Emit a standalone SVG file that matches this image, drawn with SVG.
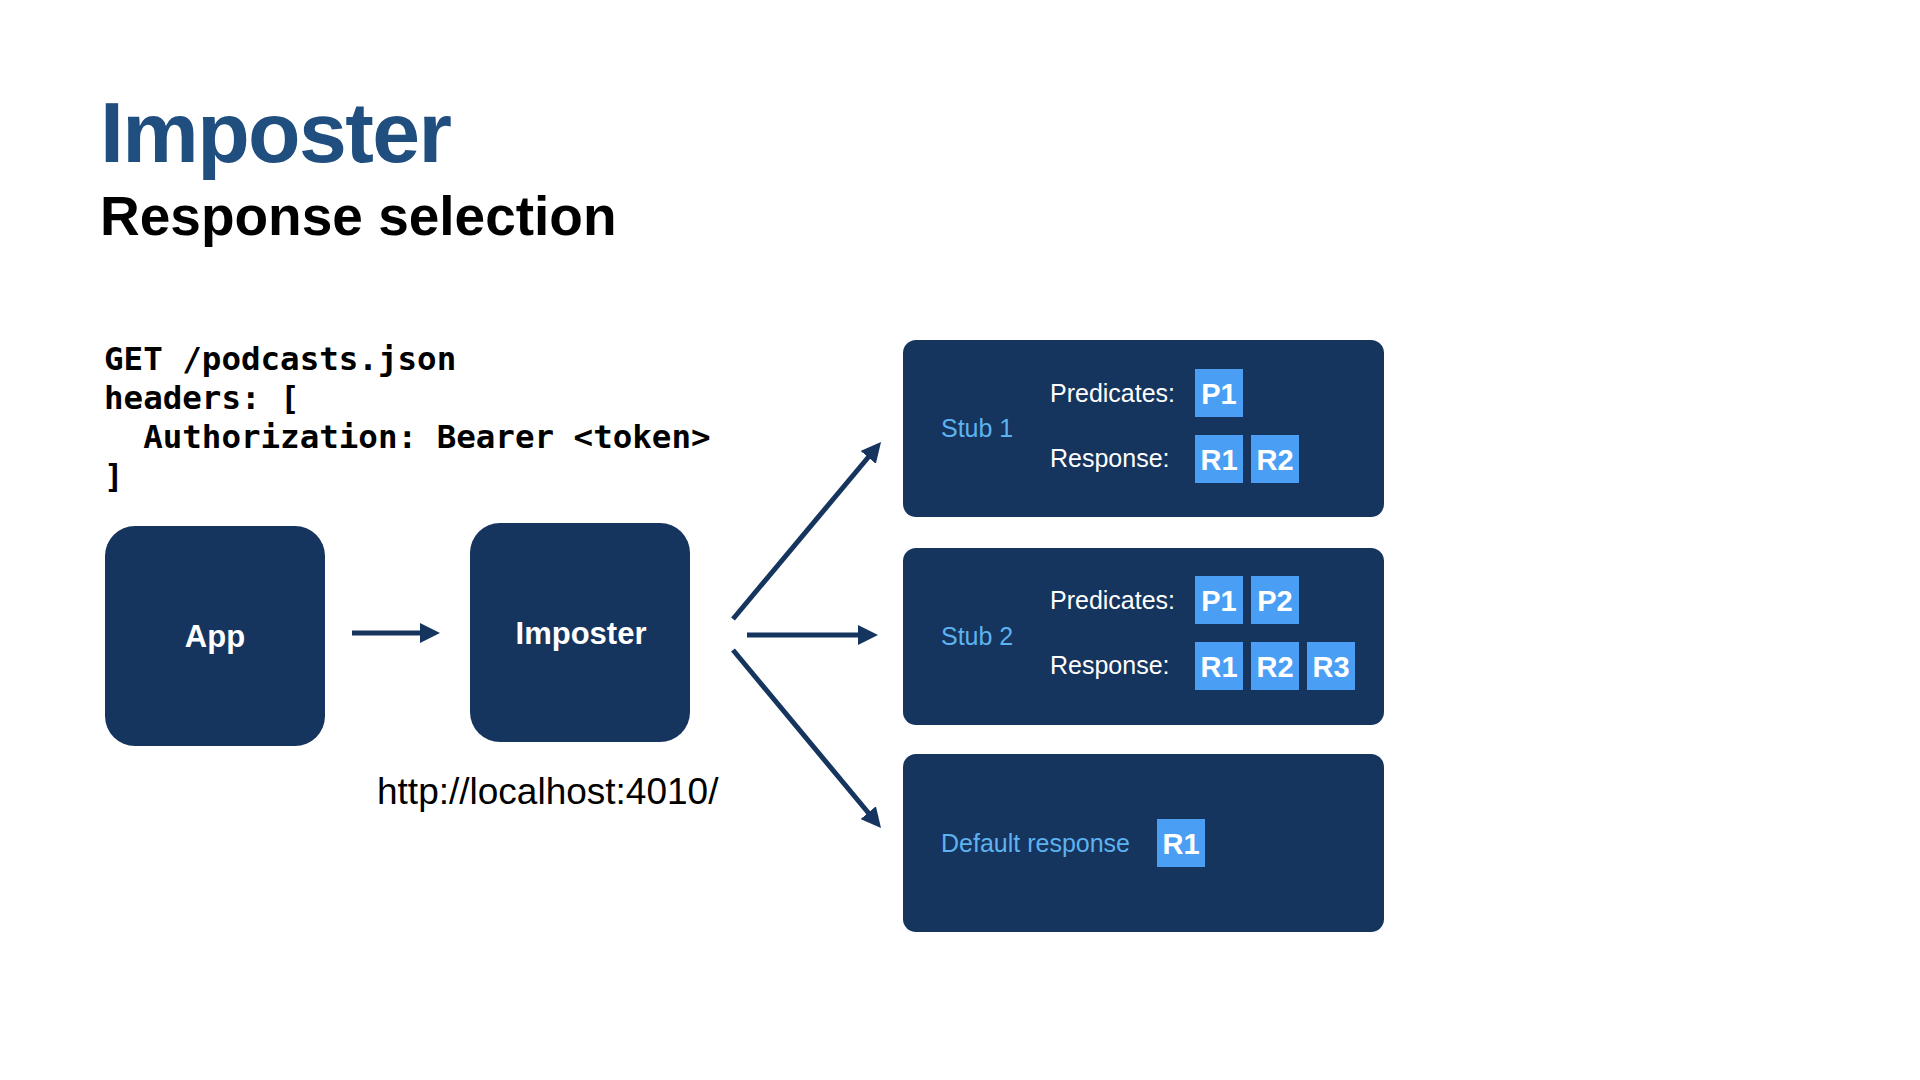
<svg xmlns="http://www.w3.org/2000/svg" width="1920" height="1080" viewBox="0 0 1920 1080">
<defs>
<style>
.node{fill:#15345e}
.conn{stroke:#15345e;stroke-width:5;fill:none;marker-end:url(#ah)}
.sans{font-family:"Liberation Sans",Arial,Helvetica,sans-serif}
.mono{font-family:"DejaVu Sans Mono","Liberation Mono",monospace;font-weight:bold;font-size:32.5px;fill:#000}
.lbl{font-family:"Liberation Sans",Arial,sans-serif;font-weight:bold;font-size:31px;fill:#fff;text-anchor:middle}
.stub{font-family:"Liberation Sans",Arial,sans-serif;font-size:25px;fill:#5db2ef}
.key{font-family:"Liberation Sans",Arial,sans-serif;font-size:25px;fill:#fff}
.chip{fill:#4a9ff5}
.chipt{font-family:"Liberation Sans",Arial,sans-serif;font-weight:bold;font-size:29px;fill:#fff;text-anchor:middle}
</style>
<marker id="ah" markerUnits="userSpaceOnUse" markerWidth="20" markerHeight="20" refX="5" refY="10" orient="auto">
<path d="M0,0 L20,10 L0,20 z" fill="#15345e"/>
</marker>
</defs>
<rect width="1920" height="1080" fill="#fff"/>
<text class="sans" x="100" y="162" font-size="86" font-weight="bold" fill="#1f4e7f" letter-spacing="-1.6">Imposter</text>
<text class="sans" x="100" y="235" font-size="55" font-weight="bold" fill="#000">Response selection</text>
<g id="request">
<text class="mono" x="104" y="370">GET /podcasts.json</text>
<text class="mono" x="104" y="409">headers: [</text>
<text class="mono" x="104" y="448" xml:space="preserve">  Authorization: Bearer &lt;token&gt;</text>
<text class="mono" x="104" y="487">]</text>
</g>
<g id="app">
<rect class="node" x="105" y="526" width="220" height="220" rx="30"/>
<text class="lbl" x="215" y="647">App</text>
</g>
<g id="imposter">
<rect class="node" x="470" y="523" width="220" height="219" rx="30"/>
<text class="lbl" x="581" y="644">Imposter</text>
<text class="sans" x="377" y="804" font-size="37" fill="#000">http://localhost:4010/</text>
</g>
<g id="stub1">
<rect class="node" x="903" y="340" width="481" height="177" rx="13"/>
<text class="stub" x="941" y="437">Stub 1</text>
<text class="key" x="1050" y="402">Predicates:</text>
<text class="key" x="1050" y="467">Response:</text>
<rect class="chip" x="1195" y="369" width="48" height="48"/>
<text class="chipt" x="1219" y="404">P1</text>
<rect class="chip" x="1195" y="435" width="48" height="48"/>
<text class="chipt" x="1219" y="470">R1</text>
<rect class="chip" x="1251" y="435" width="48" height="48"/>
<text class="chipt" x="1275" y="470">R2</text>
</g>
<g id="stub2">
<rect class="node" x="903" y="548" width="481" height="177" rx="13"/>
<text class="stub" x="941" y="645">Stub 2</text>
<text class="key" x="1050" y="609">Predicates:</text>
<text class="key" x="1050" y="674">Response:</text>
<rect class="chip" x="1195" y="576" width="48" height="48"/>
<text class="chipt" x="1219" y="611">P1</text>
<rect class="chip" x="1251" y="576" width="48" height="48"/>
<text class="chipt" x="1275" y="611">P2</text>
<rect class="chip" x="1195" y="642" width="48" height="48"/>
<text class="chipt" x="1219" y="677">R1</text>
<rect class="chip" x="1251" y="642" width="48" height="48"/>
<text class="chipt" x="1275" y="677">R2</text>
<rect class="chip" x="1307" y="642" width="48" height="48"/>
<text class="chipt" x="1331" y="677">R3</text>
</g>
<g id="default">
<rect class="node" x="903" y="754" width="481" height="178" rx="13"/>
<text class="stub" x="941" y="852">Default response</text>
<rect class="chip" x="1157" y="819" width="48" height="48"/>
<text class="chipt" x="1181" y="854">R1</text>
</g>
<g id="connectors">
<line class="conn" x1="352" y1="633" x2="425" y2="633"/>
<line class="conn" x1="733" y1="619" x2="871.4" y2="453.5"/>
<line class="conn" x1="747" y1="635" x2="863" y2="635"/>
<line class="conn" x1="733" y1="650" x2="871.4" y2="816.5"/>
</g>
</svg>
